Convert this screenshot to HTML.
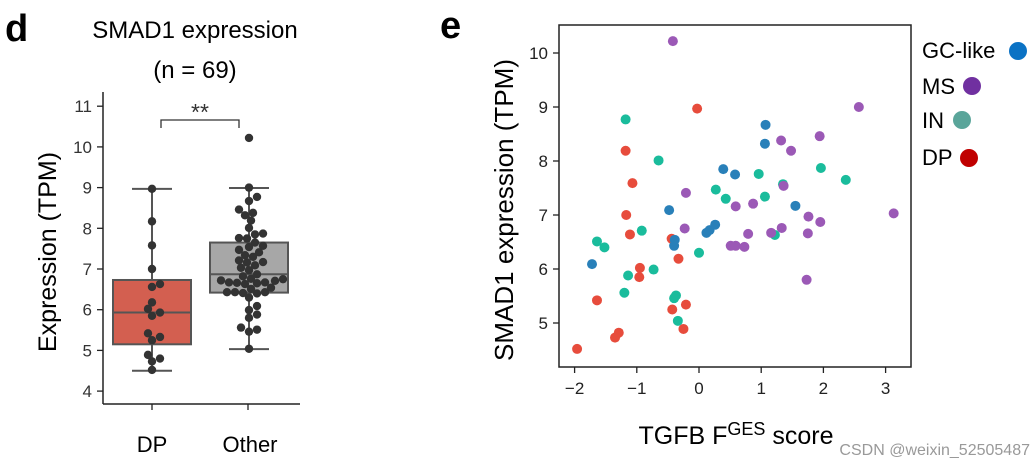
<!DOCTYPE html>
<html><head><meta charset="utf-8"><style>
body{margin:0;background:#fff;width:1035px;height:466px;overflow:hidden}
svg{display:block;font-family:"Liberation Sans",sans-serif}
</style></head><body>
<svg id="fig" width="1035" height="466">
<text x="5" y="41" font-size="38" font-weight="bold">d</text>
<text x="195" y="38" font-size="24" text-anchor="middle">SMAD1 expression</text>
<text x="195" y="78" font-size="24" text-anchor="middle">(n = 69)</text>
<text x="56" y="252" font-size="25" text-anchor="middle" transform="rotate(-90 56 252)">Expression (TPM)</text>
<g id="boxax"></g>
<text x="152" y="452" font-size="22" text-anchor="middle">DP</text>
<text x="250" y="452" font-size="22" text-anchor="middle">Other</text>
<path d="M161,128V120H239V128" fill="none" stroke="#333" stroke-width="1.3"/>
<text x="200" y="120" font-size="23" fill="#333" text-anchor="middle">**</text>

<text x="440" y="38" font-size="38" font-weight="bold">e</text>
<text x="513" y="210" font-size="26" text-anchor="middle" transform="rotate(-90 513 210)">SMAD1 expression (TPM)</text>
<text x="736" y="444" font-size="25" text-anchor="middle">TGFB F<tspan font-size="18" dy="-9">GES</tspan><tspan dy="9"> score</tspan></text>
<g id="scax"></g>
<g>
<text x="922" y="58" font-size="22">GC-like</text><circle cx="1018" cy="51" r="9" fill="#0a72c4"/>
<text x="922" y="94" font-size="22">MS</text><circle cx="972" cy="86" r="9" fill="#7030a0"/>
<text x="922" y="128" font-size="22">IN</text><circle cx="962" cy="120" r="9" fill="#5aa59a"/>
<text x="922" y="165" font-size="22">DP</text><circle cx="969" cy="158" r="9" fill="#c00000"/>
</g>
<text x="1030" y="455" font-size="16" fill="#999" text-anchor="end">CSDN @weixin_52505487</text>
</svg>
<script>
const NS="http://www.w3.org/2000/svg";
const redX=[-1.96,-1.64,-1.35,-1.29,-1.18,-1.07,-1.17,-1.11,-0.95,-0.96,-0.44,-0.33,-0.43,-0.21,-0.25,-0.03];
const redY=[4.52,5.42,4.73,4.82,8.19,7.59,7.0,6.64,6.02,5.85,6.56,6.19,5.25,5.34,4.89,8.97];
const tealX=[-1.18,-0.65,-1.64,-1.52,-0.92,-1.14,-1.20,-0.73,-0.37,-0.40,-0.34,0.0,0.27,0.43,0.96,1.06,1.35,1.22,1.96,2.36];
const tealY=[8.77,8.01,6.51,6.40,6.71,5.88,5.56,5.99,5.51,5.46,5.04,6.30,7.47,7.30,7.76,7.34,7.57,6.63,7.87,7.65];
const blueX=[-1.72,-0.48,-0.39,-0.40,0.12,0.17,0.26,0.39,0.58,1.07,1.06,1.55];
const blueY=[6.09,7.09,6.54,6.43,6.67,6.72,6.82,7.85,7.75,8.67,8.32,7.17];
const purpX=[-0.42,-0.21,-0.23,0.59,0.87,0.51,0.59,0.73,0.79,1.16,1.33,1.32,1.48,1.36,1.76,1.75,1.95,1.73,1.94,2.57,3.13];
const purpY=[10.22,7.41,6.75,7.16,7.21,6.43,6.43,6.41,6.65,6.67,6.76,8.38,8.19,7.54,6.97,6.66,6.87,5.80,8.46,9.00,7.03];
const xTicks=[-2,-1,0,1,2,3];
const yTicksS=[5,6,7,8,9,10];
const yTicksB=[4,5,6,7,8,9,10,11];
const dpStats=[4.5,5.15,5.93,6.73,8.97];
const otherStats=[5.03,6.42,6.87,7.65,8.99];
const dpVals=[8.97,8.17,7.58,7.0,6.63,6.56,6.18,6.02,5.93,5.85,5.42,5.33,5.25,4.89,4.80,4.73,4.52];
const otherVals=tealY.concat(blueY,purpY);

const sx=v=>699+62.2*v, sy=v=>215-54*v+54*7;
const by=v=>269-40.7*(v-7);
function el(t,a,p,name){const e=document.createElementNS(NS,t);for(const k in a)e.setAttribute(k,a[k]);


(p||document.getElementById('fig')).appendChild(e);return e;}

const sa=document.getElementById('scax');
el('rect',{x:559,y:25,width:352,height:342,fill:'none',stroke:'#222','stroke-width':1.5},sa,'scatter-frame');
xTicks.forEach(t=>{el('line',{x1:sx(t),x2:sx(t),y1:367,y2:373,stroke:'#222','stroke-width':1.3},sa,'x-tick');
const tx=el('text',{x:sx(t),y:394,'font-size':17,'text-anchor':'middle',fill:'#222'},sa,'x-tick-label');tx.textContent=t<0?'\u2212'+(-t):t;});
yTicksS.forEach(t=>{el('line',{x1:553,x2:559,y1:sy(t),y2:sy(t),stroke:'#222','stroke-width':1.3},sa,'y-tick');
const tx=el('text',{x:548,y:sy(t)+6,'font-size':17,'text-anchor':'end',fill:'#222'},sa,'y-tick-label');tx.textContent=t;});
[[redX,redY,'#e74c3c','point-dp'],[tealX,tealY,'#1abc9c','point-in'],[blueX,blueY,'#2980b9','point-gc-like'],[purpX,purpY,'#9b59b6','point-ms']].forEach(([X,Y,c,n])=>{
X.forEach((x,i)=>el('circle',{cx:sx(x),cy:sy(Y[i]),r:5,fill:c},null,n));});

const ba=document.getElementById('boxax');
el('line',{x1:103,x2:103,y1:92,y2:404,stroke:'#222','stroke-width':1.5},ba,'box-y-axis');
el('line',{x1:103,x2:300,y1:404,y2:404,stroke:'#222','stroke-width':1.5},ba,'box-x-axis');
yTicksB.forEach(t=>{el('line',{x1:97,x2:103,y1:by(t),y2:by(t),stroke:'#222','stroke-width':1.3},ba,'y-tick');
const tx=el('text',{x:92,y:by(t)+6,'font-size':17,'text-anchor':'end',fill:'#333'},ba,'y-tick-label');tx.textContent=t;});
[152,248].forEach(x=>el('line',{x1:x,x2:x,y1:404,y2:410,stroke:'#222','stroke-width':1.3},ba,'x-tick'));
function box(cx,s,fill,name){
el('line',{x1:cx,x2:cx,y1:by(s[0]),y2:by(s[4]),stroke:'#555','stroke-width':2},null,name+'-whisker');
el('line',{x1:cx-20,x2:cx+20,y1:by(s[0]),y2:by(s[0]),stroke:'#555','stroke-width':2},null,name+'-cap-low');
el('line',{x1:cx-20,x2:cx+20,y1:by(s[4]),y2:by(s[4]),stroke:'#555','stroke-width':2},null,name+'-cap-high');
el('rect',{x:cx-39,y:by(s[3]),width:78,height:by(s[1])-by(s[3]),fill:fill,stroke:'#555','stroke-width':2},null,name+'-box');
el('line',{x1:cx-39,x2:cx+39,y1:by(s[2]),y2:by(s[2]),stroke:'#555','stroke-width':2},null,name+'-median');}
box(152,dpStats,'#d35f50','dp');
box(249,otherStats,'#a7a7a7','other');
function swarm(cx,vals,name){const placed=[];const r=4.2,d=2*r-1;
vals.slice().sort((a,b)=>a-b).forEach(v=>{const y=by(v);let off=0;
for(let k=0;k<40;k++){const cand=k===0?0:(k%2?1:-1)*Math.ceil(k/2)*2;
if(placed.every(p=>Math.hypot(p[0]-(cx+cand),p[1]-y)>=d)){off=cand;break;}}
placed.push([cx+off,y]);el('circle',{cx:cx+off,cy:y,r:r,fill:'#333'},null,name);});}
swarm(152,dpVals,'dp-point');
swarm(249,otherVals,'other-point');
</script>
</body></html>
